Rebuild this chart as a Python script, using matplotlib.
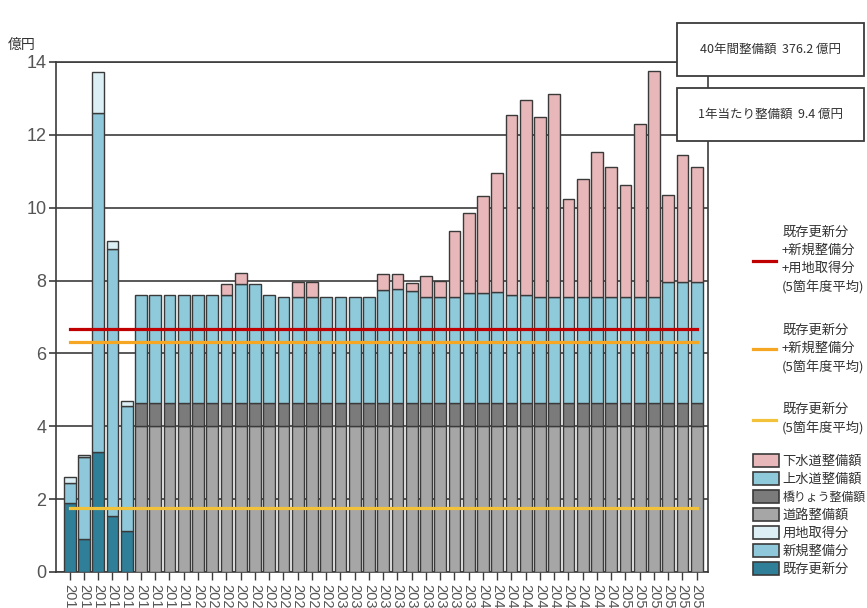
import numpy as np
import matplotlib.pyplot as plt
from matplotlib.patches import Patch, Rectangle
from matplotlib.lines import Line2D

plt.rcParams['font.family'] = ['Noto Sans CJK JP', 'DejaVu Sans']

W, H = 867, 608
NUM_FONT = ['Liberation Sans Narrow', 'Liberation Sans', 'DejaVu Sans']

years = list(range(2011, 2056))

# 2011-2015 actuals [億円]
kizon = [1.89, 0.90, 3.30, 1.55, 1.13]    # 既存更新分
shinki = [0.56, 2.25, 9.29, 7.31, 3.44]   # 新規整備分
youchi = [0.16, 0.05, 1.14, 0.23, 0.12]   # 用地取得分

# 2016-2055 plan [億円]
douro = [4.00, 4.00, 4.00, 4.00, 4.00, 4.00, 4.00, 4.00, 4.00, 4.00,
         4.00, 4.00, 4.00, 4.00, 4.00, 4.00, 4.00, 4.00, 4.00, 4.00,
         4.00, 4.00, 4.00, 4.00, 4.00, 4.00, 4.00, 4.00, 4.00, 4.00,
         4.00, 4.00, 4.00, 4.00, 4.00, 4.00, 4.00, 4.00, 4.00, 4.00]
kyouryou = [0.65, 0.65, 0.65, 0.65, 0.65, 0.65, 0.65, 0.65, 0.65, 0.65,
            0.65, 0.65, 0.65, 0.65, 0.65, 0.65, 0.65, 0.65, 0.65, 0.65,
            0.65, 0.65, 0.65, 0.65, 0.65, 0.65, 0.65, 0.65, 0.65, 0.65,
            0.65, 0.65, 0.65, 0.65, 0.65, 0.65, 0.65, 0.65, 0.65, 0.65]
jousui = [2.95, 2.95, 2.95, 2.95, 2.95, 2.95, 2.95, 3.25, 3.25, 2.95,
          2.91, 2.91, 2.91, 2.91, 2.91, 2.91, 2.91, 3.09, 3.11, 3.07,
          2.91, 2.91, 2.91, 3.00, 3.00, 3.04, 2.95, 2.95, 2.91, 2.91,
          2.91, 2.91, 2.91, 2.91, 2.91, 2.91, 2.91, 3.32, 3.32, 3.32]
gesui = [0.00, 0.00, 0.00, 0.00, 0.00, 0.00, 0.30, 0.32, 0.00, 0.00,
         0.00, 0.39, 0.39, 0.00, 0.00, 0.00, 0.00, 0.44, 0.41, 0.20,
         0.57, 0.44, 1.80, 2.20, 2.67, 3.26, 4.94, 5.37, 4.92, 5.57,
         2.69, 3.24, 3.98, 3.55, 3.05, 4.74, 6.20, 2.38, 3.48, 3.14]

C_KIZON = '#2f7f99'
C_SHINKI = '#8ec8da'
C_YOUCHI = '#dceff5'
C_DOURO = '#a6a6a6'
C_KYOURYOU = '#7b7b7b'
C_JOUSUI = '#8fcadb'
C_GESUI = '#e7b7b9'
EDGE = '#3a3a3a'

fig = plt.figure(figsize=(W / 100, H / 100), dpi=100)
ax = fig.add_axes([56 / W, 36 / H, 652 / W, 510 / H])

x = np.arange(len(years))
xp, xf = x[:5], x[5:]
bw = 0.82
kw = dict(width=bw, edgecolor=EDGE, linewidth=1.0, zorder=3)

# past years: existing renewal / new works / land acquisition
ax.bar(xp, kizon, color=C_KIZON, **kw)
ax.bar(xp, shinki, bottom=kizon, color=C_SHINKI, **kw)
b2 = np.add(kizon, shinki)
ax.bar(xp, youchi, bottom=b2, color=C_YOUCHI, **kw)

# plan years: road / bridge / water / sewer
ax.bar(xf, douro, color=C_DOURO, **kw)
ax.bar(xf, kyouryou, bottom=douro, color=C_KYOURYOU, **kw)
f2 = np.add(douro, kyouryou)
ax.bar(xf, jousui, bottom=f2, color=C_JOUSUI, **kw)
f3 = f2 + np.array(jousui)
g = np.array(gesui)
m = g > 0
ax.bar(xf[m], g[m], bottom=f3[m], color=C_GESUI, **kw)

# 5-year averages of the actuals
avg_kizon = np.mean(kizon)
avg_ks = np.mean(b2)
avg_all = np.mean(b2 + np.array(youchi))
ax.plot([x[0], x[-1]], [avg_all, avg_all], color='#c00000', lw=2.3, zorder=5)
ax.plot([x[0], x[-1]], [avg_ks, avg_ks], color='#f5a623', lw=2.3, zorder=5)
ax.plot([x[0], x[-1]], [avg_kizon, avg_kizon], color='#f2c23a', lw=2.3, zorder=5)

ax.set_xlim(-0.96, 44.79)
ax.set_ylim(0, 14)
ax.set_yticks(range(0, 15, 2))
ax.set_xticks(x)
ax.set_xticklabels([str(y) for y in years], rotation=270, va='top', ha='center')
ax.set_axisbelow(True)
ax.yaxis.grid(True, color='#3c3c3c', lw=1.2)
for s in ax.spines.values():
    s.set_color('#3c3c3c')
    s.set_linewidth(1.2)
ax.tick_params(axis='y', direction='out', length=5, width=1.2, color='#3c3c3c',
               labelsize=13, labelcolor='#555555', pad=2)
ax.tick_params(axis='x', direction='out', length=6, width=1.0, color='#3c3c3c',
               labelsize=10.5, labelcolor='#555555', pad=3)
for lbl in ax.get_yticklabels() + ax.get_xticklabels():
    lbl.set_family(NUM_FONT)

fig.text(8 / W, 1 - 45 / H, '億円', ha='left', va='center', fontsize=10, color='#333333')

# summary boxes
total = sum(douro) + sum(kyouryou) + sum(jousui) + sum(gesui)
n_plan = len(douro)
box_txt = [f'40年間整備額  {total:.1f} 億円', f'1年当たり整備額  {total / n_plan:.1f} 億円']
for (top, bot), t in zip([(23, 76), (88, 141)], box_txt):
    fig.add_artist(Rectangle((677 / W, 1 - bot / H), (864 - 677) / W, (bot - top) / H,
                             transform=fig.transFigure, facecolor='white',
                             edgecolor='#3c3c3c', lw=1.3, zorder=10))
    fig.text(770 / W, 1 - (top + bot) / 2 / H, t, ha='center', va='center',
             fontsize=9, color='#333333', zorder=11)

# legends
line_handles = [Line2D([], [], color='#c00000', lw=2.3),
                Line2D([], [], color='#f5a623', lw=2.3),
                Line2D([], [], color='#f2c23a', lw=2.3)]
line_labels = ['既存更新分\n+新規整備分\n+用地取得分\n(5箇年度平均)',
               '既存更新分\n+新規整備分\n(5箇年度平均)',
               '既存更新分\n(5箇年度平均)']
leg1 = fig.legend(line_handles, line_labels, loc='upper left',
                  bbox_to_anchor=(753 / W, 1 - 226 / H), frameon=False,
                  borderpad=0, borderaxespad=0, handlelength=1.75,
                  handletextpad=0.45, labelspacing=2.2, fontsize=9.5,
                  labelcolor='#333333')
for t in leg1.get_texts():
    t.set_linespacing(1.5)

patch_colors = [C_GESUI, C_JOUSUI, C_KYOURYOU, C_DOURO, C_YOUCHI, C_SHINKI, C_KIZON]
patch_labels = ['下水道整備額', '上水道整備額', '橋りょう整備額', '道路整備額',
                '用地取得分', '新規整備分', '既存更新分']
patch_handles = [Patch(facecolor=c, edgecolor=EDGE, lw=1.2) for c in patch_colors]
leg2 = fig.legend(patch_handles, patch_labels, loc='upper left',
                  bbox_to_anchor=(753 / W, 1 - 454 / H), frameon=False,
                  borderpad=0, borderaxespad=0, handlelength=1.97,
                  handleheight=1.14, handletextpad=0.25, labelspacing=0.3,
                  fontsize=9.5, labelcolor='#333333')
leg2.get_texts()[2].set_fontsize(8.6)

fig.savefig('out.png', dpi=100)
